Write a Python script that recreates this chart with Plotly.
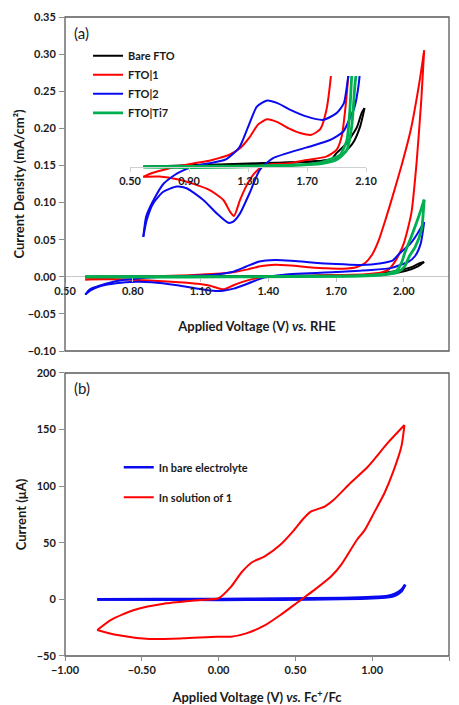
import plotly.graph_objects as go

# ---------------- Panel (a): CV vs RHE (current density, mA/cm2) ----------------
# Bare FTO
V_bare_fwd = [0.59, 0.80, 1.00, 1.20, 1.40, 1.60, 1.75, 1.86, 1.90, 1.97, 2.04, 2.07, 2.09]
J_bare_fwd = [0.0000, 0.0003, 0.0006, 0.0009, 0.0012, 0.0015, 0.0018, 0.0023, 0.0046, 0.0080, 0.0137, 0.0183, 0.0200]
V_bare_rev = [2.09, 2.06, 2.01, 1.92, 1.80, 1.60, 1.30, 1.00, 0.80, 0.59]
J_bare_rev = [0.0200, 0.0137, 0.0080, 0.0034, 0.0020, 0.0014, 0.0008, 0.0004, 0.0002, 0.0000]

# FTO|1
V_f1_fwd = [0.59, 0.65, 0.75, 0.90, 1.05, 1.17, 1.25, 1.31, 1.37, 1.43, 1.50, 1.58, 1.66, 1.73,
            1.79, 1.83, 1.86, 1.89, 1.92, 1.95, 1.99, 2.03, 2.07, 2.09]
J_f1_fwd = [-0.0035, -0.0022, -0.0008, 0.0008, 0.0022, 0.0040, 0.0065, 0.0100, 0.0145, 0.0162,
            0.0152, 0.0130, 0.0114, 0.0109, 0.0128, 0.0190, 0.0300, 0.0500, 0.0780, 0.1080,
            0.1500, 0.1970, 0.2640, 0.3050]
V_f1_rev = [2.09, 2.078, 2.056, 2.033, 2.00, 1.98, 1.958, 1.935, 1.90, 1.83, 1.70, 1.58, 1.45,
            1.40, 1.34, 1.29, 1.246, 1.205, 1.178, 1.133, 1.04, 0.93, 0.82, 0.70, 0.59]
J_f1_rev = [0.305, 0.241, 0.152, 0.085, 0.045, 0.031, 0.019, 0.0103, 0.0057, 0.0034, 0.0023,
            0.0012, 0.0008, 0.0002, -0.0025, -0.0065, -0.0114, -0.0169, -0.0154, -0.0114,
            -0.0080, -0.0059, -0.0043, -0.0034, -0.0035]

# FTO|2
V_f2_fwd = [0.59, 0.61, 0.66, 0.73, 0.82, 0.93, 1.04, 1.15, 1.24, 1.30, 1.36, 1.43, 1.50, 1.58,
            1.70, 1.81, 1.90, 1.95, 1.98, 2.03, 2.06, 2.09]
J_f2_fwd = [-0.0240, -0.0170, -0.0114, -0.0057, -0.0023, 0.0000, 0.0012, 0.0025, 0.0065, 0.0135,
            0.0205, 0.0226, 0.0217, 0.0196, 0.0171, 0.0160, 0.0183, 0.0217, 0.0310, 0.0450,
            0.0580, 0.0737]
V_f2_rev = [2.09, 2.075, 2.05, 2.02, 1.99, 1.946, 1.856, 1.70, 1.47, 1.38, 1.31, 1.246, 1.20,
            1.166, 1.088, 0.997, 0.884, 0.817, 0.726, 0.658, 0.613, 0.59]
J_f2_rev = [0.0737, 0.0450, 0.0280, 0.0200, 0.0165, 0.0120, 0.0091, 0.0066, 0.0029, -0.0011,
            -0.0091, -0.0160, -0.0188, -0.0192, -0.0160, -0.0114, -0.0074, -0.0068, -0.0086,
            -0.0125, -0.0183, -0.0240]

# FTO|Ti7
V_ti_fwd = [0.59, 0.90, 1.20, 1.50, 1.70, 1.80, 1.88, 1.924, 1.97, 1.99, 2.003, 2.033, 2.07, 2.09]
J_ti_fwd = [0.0000, 0.0001, 0.0002, 0.0004, 0.0008, 0.0015, 0.0029, 0.0040, 0.0090, 0.0190,
            0.0310, 0.0540, 0.0850, 0.1040]
V_ti_rev = [2.09, 2.078, 2.05, 2.025, 2.003, 1.97, 1.90, 1.80, 1.50, 1.20, 0.90, 0.59]
J_ti_rev = [0.1040, 0.0630, 0.0400, 0.0280, 0.0137, 0.0057, 0.0023, 0.0010, 0.0002, -0.0002,
            -0.0003, -0.0002]

# ---------------- Panel (b): CV vs Fc+/Fc (current, uA) ----------------
E_bare_fwd = [-0.79, -0.40, 0.00, 0.40, 0.80, 1.00, 1.10, 1.15, 1.19, 1.215]
I_bare_fwd = [0.0, 0.2, 0.4, 0.7, 1.2, 2.0, 3.0, 5.0, 8.5, 13.0]
E_bare_rev = [1.215, 1.19, 1.15, 1.10, 1.00, 0.80, 0.40, 0.00, -0.40, -0.79]
I_bare_rev = [13.0, 7.0, 3.5, 2.0, 1.0, 0.3, -0.2, -0.4, -0.3, 0.0]

E_sol_fwd = [-0.79, -0.70, -0.55, -0.34, -0.12, 0.00, 0.08, 0.15, 0.22, 0.30, 0.40, 0.49, 0.55,
             0.60, 0.69, 0.75, 0.86, 0.97, 1.10, 1.21]
I_sol_fwd = [-27, -18, -9.4, -3.5, -0.5, 1, 11, 24, 33, 38, 48, 61, 71, 77.5, 82, 88, 103, 117,
             138, 154]
E_sol_rev = [1.21, 1.19, 1.14, 1.08, 1.01, 0.95, 0.90, 0.80, 0.73, 0.62, 0.55, 0.51, 0.40, 0.30,
             0.18, 0.08, -0.01, -0.23, -0.45, -0.66, -0.79]
I_sol_rev = [154, 135, 114, 94, 76, 61, 52.5, 31, 20, 8, 1, -3, -14, -23, -30, -33, -33, -34.4,
             -35, -31.5, -27]

names_a = ["Bare FTO", "FTO|1", "FTO|2", "FTO|Ti7"]
names_b = ["In bare electrolyte", "In solution of 1"]

BLACK, RED, BLUE, GREEN = "#000000", "#ff0000", "#0a0af0", "#00b050"
FONT = "Lato, 'Open Sans', sans-serif"
TXT = "#1a1a1a"

fig = go.Figure()

series_a = [
    (names_a[0], BLACK, 2.0, V_bare_fwd, J_bare_fwd, V_bare_rev, J_bare_rev),
    (names_a[1], RED, 2.0, V_f1_fwd, J_f1_fwd, V_f1_rev, J_f1_rev),
    (names_a[2], BLUE, 2.0, V_f2_fwd, J_f2_fwd, V_f2_rev, J_f2_rev),
    (names_a[3], GREEN, 2.8, V_ti_fwd, J_ti_fwd, V_ti_rev, J_ti_rev),
]

for axes in [("x", "y"), ("x3", "y3")]:
    for name, col, w, xf, yf, xr, yr in series_a:
        main = axes[0] == "x"
        for k, (xx, yy) in enumerate([(xf, yf), (xr, yr)]):
            fig.add_trace(go.Scatter(
                x=xx, y=yy, mode="lines", name=name,
                line=dict(color=col, width=w, shape="spline", smoothing=0.6),
                xaxis=axes[0], yaxis=axes[1],
                legendgroup=name, showlegend=(main and k == 0), legend="legend",
                hoverinfo="skip"))

series_b = [
    (names_b[0], BLUE, 2.6, E_bare_fwd, I_bare_fwd, E_bare_rev, I_bare_rev),
    (names_b[1], RED, 2.0, E_sol_fwd, I_sol_fwd, E_sol_rev, I_sol_rev),
]
for name, col, w, xf, yf, xr, yr in series_b:
    for k, (xx, yy) in enumerate([(xf, yf), (xr, yr)]):
        fig.add_trace(go.Scatter(
            x=xx, y=yy, mode="lines", name=name,
            line=dict(color=col, width=w, shape="spline", smoothing=0.6),
            xaxis="x2", yaxis="y2",
            legendgroup=name, showlegend=(k == 0), legend="legend2",
            hoverinfo="skip"))

tickfont = dict(family=FONT, size=11, color=TXT, weight="bold")
titlefont = dict(family=FONT, size=13, color=TXT, weight="bold")

# The page body adds an 8px margin, so the figure is 16px smaller than the window.
fig.update_layout(
    width=451, height=697,
    margin=dict(l=57, r=10, t=9, b=49, autoexpand=False),
    paper_bgcolor="white", plot_bgcolor="rgba(0,0,0,0)",
    showlegend=True,
    xaxis=dict(domain=[0, 1], anchor="free", position=0.5936, range=[0.5, 2.2],
               tick0=0.5, dtick=0.3, tickformat=".2f", showgrid=False, zeroline=False,
               showline=False, ticks="outside", ticklen=4, tickcolor="#bfbfbf",
               tickfont=tickfont, automargin=False,
               title=dict(text="Applied Voltage (V) <i>vs.</i> RHE", font=titlefont, standoff=26)),
    yaxis=dict(domain=[0.4773, 1], anchor="x", range=[-0.10, 0.35], dtick=0.05,
               tickformat=".2f", showgrid=False, zeroline=True, zerolinecolor="#c8c8c8",
               zerolinewidth=1, showline=False, ticks="outside", ticklen=5,
               tickcolor="#8c8c8c", tickfont=tickfont, ticklabelstandoff=1, automargin=False,
               title=dict(text="Current Density (mA/cm²)", font=titlefont, standoff=0)),
    xaxis2=dict(domain=[0, 1], anchor="y2", range=[-1, 1.5], dtick=0.5, tickformat=".2f",
                showgrid=False, zeroline=False, showline=False, ticks="outside", ticklen=4,
                tickcolor="#8c8c8c", tickfont=tickfont, automargin=False,
                title=dict(text="Applied Voltage (V) <i>vs.</i> Fc<sup>+</sup>/Fc",
                           font=titlefont, standoff=19)),
    yaxis2=dict(domain=[0, 0.4429], anchor="x2", range=[-50, 200], dtick=50,
                showgrid=False, zeroline=False, showline=False, ticks="outside", ticklen=5,
                tickcolor="#8c8c8c", tickfont=tickfont, ticklabelstandoff=1, automargin=False,
                title=dict(text="Current (μA)", font=titlefont, standoff=7)),
    xaxis3=dict(domain=[0.1693, 0.7839], anchor="free", position=0.7657, range=[0.5, 2.1],
                tick0=0.5, dtick=0.4, tickformat=".2f", showgrid=False, zeroline=False,
                showline=True, linecolor="#d0d0d0", linewidth=1, ticks="outside", ticklen=4,
                tickcolor="#d0d0d0", tickfont=tickfont, automargin=False),
    yaxis3=dict(domain=[0.6432, 0.9077], anchor="x3", range=[-0.0268, 0.031], visible=False,
                showgrid=False, zeroline=False, automargin=False),
    legend=dict(x=0.060, y=0.962, xanchor="left", yanchor="top", bgcolor="rgba(0,0,0,0)",
                font=dict(family=FONT, size=11, color=TXT, weight="bold"), itemwidth=30,
                tracegroupgap=0, traceorder="normal"),
    legend2=dict(x=0.140, y=0.318, xanchor="left", yanchor="top", bgcolor="rgba(0,0,0,0)",
                 font=dict(family=FONT, size=11, color=TXT, weight="bold"), itemwidth=30,
                 tracegroupgap=11, traceorder="grouped"),
    shapes=[
        dict(type="rect", xref="x domain", yref="y domain", x0=0, x1=1, y0=0, y1=1,
             line=dict(color="#595959", width=1.3), layer="above"),
        dict(type="rect", xref="x2 domain", yref="y2 domain", x0=0, x1=1, y0=0, y1=1,
             line=dict(color="#595959", width=1.3), layer="above"),
    ],
    annotations=[
        dict(text="(a)", xref="paper", yref="paper", x=0.018, y=0.975, xanchor="left",
             yanchor="middle", showarrow=False, font=dict(family=FONT, size=15, color=TXT)),
        dict(text="(b)", xref="paper", yref="paper", x=0.018, y=0.4194, xanchor="left",
             yanchor="middle", showarrow=False, font=dict(family=FONT, size=15, color=TXT)),
    ],
)

fig.write_html("out.html")
